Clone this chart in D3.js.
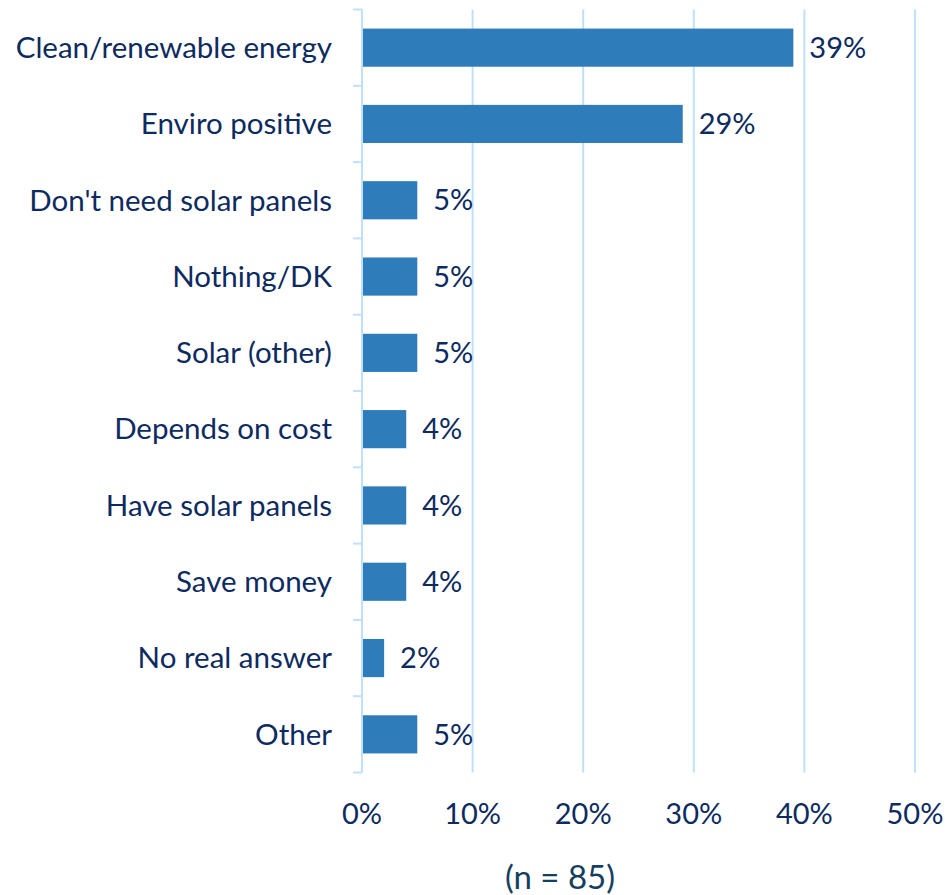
<!DOCTYPE html>
<html>
<head>
<meta charset="utf-8">
<script src="https://cdn.jsdelivr.net/npm/d3@7"></script>
<style>
  html, body { margin: 0; padding: 0; background: #fff; }
  svg { display: block; }
</style>
</head>
<body>
<svg id="chart" width="945" height="895"></svg>
<script>
// Reasons given (share of respondents)
const categories = [
  "Clean/renewable energy",
  "Enviro positive",
  "Don't need solar panels",
  "Nothing/DK",
  "Solar (other)",
  "Depends on cost",
  "Have solar panels",
  "Save money",
  "No real answer",
  "Other"
];
const values = [39, 29, 5, 5, 5, 4, 4, 4, 2, 5];
const xTicks = [0, 10, 20, 30, 40, 50];
const sampleNote = "(n = 85)";

const W = 945, H = 895;
const margin = { left: 362, right: 30, top: 9.5, bottom: 122.5 };
const FONT = "Lato, 'Open Sans', sans-serif";
const textColor = "#0d2b60";
const gridColor = "#c0e0f8";
const barColor = "#2f7cba";

const svg = d3.select("#chart");

const x = d3.scaleLinear()
  .domain([0, 50])
  .range([margin.left, W - margin.right]);

const y = d3.scaleBand()
  .domain(categories)
  .range([margin.top, H - margin.bottom])
  .paddingInner(0.5)
  .paddingOuter(0.25);

const yTop = margin.top, yBot = H - margin.bottom;

// vertical gridlines (skip 0, where the axis line sits)
svg.append("g")
  .selectAll("line")
  .data(xTicks.filter(t => t > 0))
  .join("line")
  .attr("x1", d => x(d)).attr("x2", d => x(d))
  .attr("y1", yTop).attr("y2", yBot)
  .attr("stroke", gridColor)
  .attr("stroke-width", 2);

// category axis with boundary ticks
const bandStep = y.step();
const boundaries = d3.range(categories.length + 1).map(i => yTop + i * bandStep);
const axisG = svg.append("g");
axisG.append("line")
  .attr("x1", x(0)).attr("x2", x(0))
  .attr("y1", yTop).attr("y2", yBot)
  .attr("stroke", gridColor).attr("stroke-width", 2);
axisG.selectAll("line.tick")
  .data(boundaries)
  .join("line")
  .attr("class", "tick")
  .attr("x1", x(0) - 9).attr("x2", x(0))
  .attr("y1", d => d).attr("y2", d => d)
  .attr("stroke", gridColor).attr("stroke-width", 2);

// bars
svg.append("g")
  .selectAll("rect")
  .data(categories)
  .join("rect")
  .attr("x", x(0) + 1)
  .attr("y", d => y(d))
  .attr("width", (d, i) => x(values[i]) - x(0) - 1)
  .attr("height", y.bandwidth())
  .attr("fill", barColor);

// category labels
svg.append("g")
  .selectAll("text")
  .data(categories)
  .join("text")
  .attr("x", 332)
  .attr("y", d => y(d) + y.bandwidth() / 2)
  .attr("dy", "0.35em")
  .attr("text-anchor", "end")
  .attr("font-family", FONT)
  .attr("font-size", 29.5)
  .attr("fill", textColor)
  .text(d => d);

// value labels
svg.append("g")
  .selectAll("text")
  .data(categories)
  .join("text")
  .attr("x", (d, i) => x(values[i]) + 16)
  .attr("y", d => y(d) + y.bandwidth() / 2)
  .attr("dy", "0.35em")
  .attr("font-family", FONT)
  .attr("font-size", 29)
  .attr("fill", textColor)
  .text((d, i) => values[i] + "%");

// x tick labels
svg.append("g")
  .selectAll("text")
  .data(xTicks)
  .join("text")
  .attr("x", d => x(d))
  .attr("y", 824)
  .attr("text-anchor", "middle")
  .attr("font-family", FONT)
  .attr("font-size", 29)
  .attr("fill", textColor)
  .text(d => d + "%");

// sample size note
svg.append("text")
  .attr("x", 560)
  .attr("y", 889)
  .attr("text-anchor", "middle")
  .attr("font-family", FONT)
  .attr("font-size", 33)
  .attr("fill", "#163f5f")
  .text(sampleNote);
</script>
</body>
</html>
